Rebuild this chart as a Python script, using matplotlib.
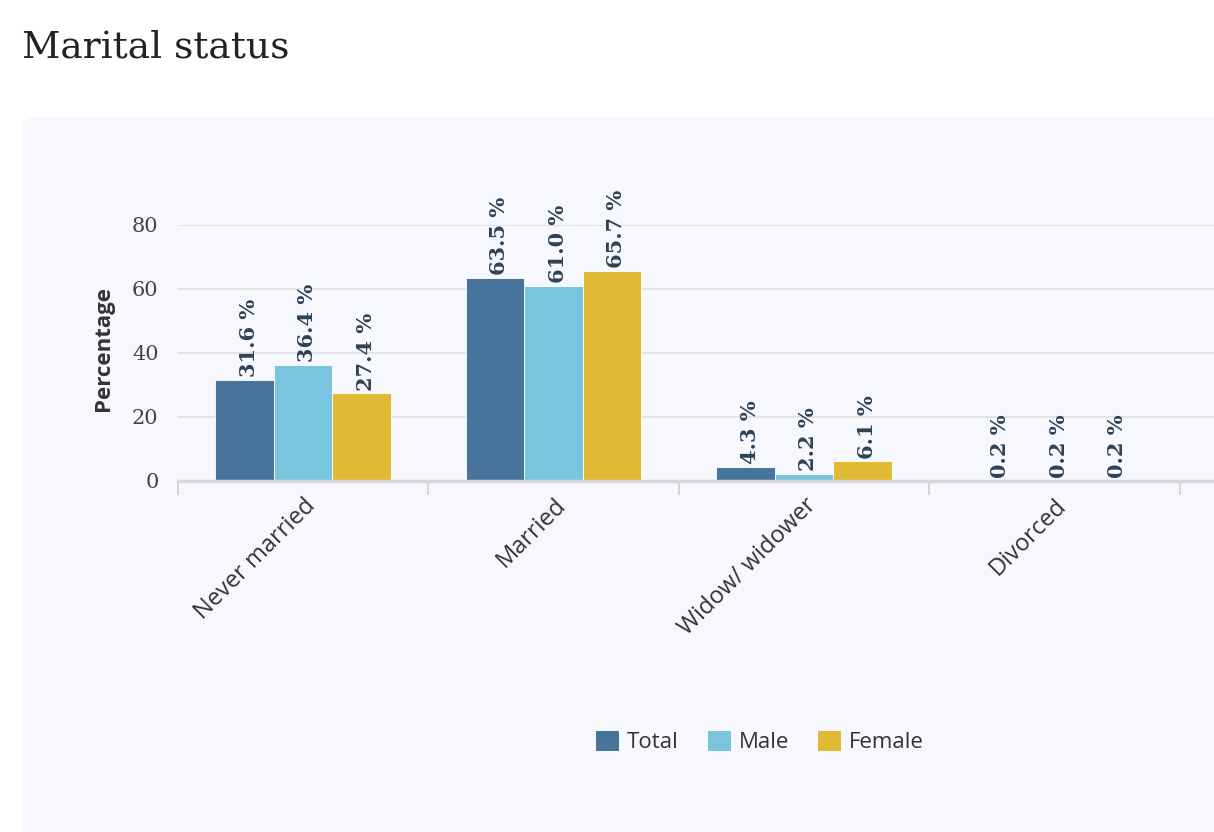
import numpy as np
import matplotlib.pyplot as plt
from matplotlib.patches import FancyBboxPatch, Patch

categories = ["Never married", "Married", "Widow/ widower", "Divorced"]
series_names = ["Total", "Male", "Female"]
total = [31.6, 63.5, 4.3, 0.2]
male = [36.4, 61.0, 2.2, 0.2]
female = [27.4, 65.7, 6.1, 0.2]
colors = ["#46749a", "#7ac5de", "#e0b935"]
yticks = [0, 20, 40, 60, 80]

W, H = 1214, 832
fig = plt.figure(figsize=(W / 100, H / 100), dpi=100)
fig.patch.set_facecolor("white")

# light panel with rounded corner, running off the right/bottom edges
panel = FancyBboxPatch((22 / W, -0.05), 1.1, (H - 117) / H + 0.05,
                       boxstyle="round,pad=0,rounding_size=0.015",
                       transform=fig.transFigure, facecolor="#f7f8fd",
                       edgecolor="none", zorder=-5)
fig.patches.append(panel)

fig.text(22 / W, 1 - 48 / H, "Marital status", family="DejaVu Serif",
         fontsize=27, color="#222222", va="center", ha="left")

ax = fig.add_axes([178 / W, 1 - 481 / H, (1240 - 178) / W, (481 - 225) / H])
ax.set_facecolor("none")
ax.set_xlim(-0.5, -0.5 + 1062 / 250.4)
ax.set_ylim(0, 80)

x = np.arange(len(categories))
bw = 0.234
for i, (name, vals) in enumerate(zip(series_names, [total, male, female])):
    pos = x + (i - 1) * bw
    ax.bar(pos, vals, width=bw, color=colors[i], edgecolor="#ffffff",
           linewidth=0.6, label=name, zorder=3)
    for px, v in zip(pos, vals):
        ax.annotate(f"{v:.1f} %", (px, v), xytext=(3, 2), textcoords="offset points",
                    rotation=90, ha="center", va="bottom", family="DejaVu Serif",
                    fontweight="bold", fontsize=15, color="#2e4257",
                    annotation_clip=False, zorder=4)

for s in ["top", "right", "left"]:
    ax.spines[s].set_visible(False)
ax.spines["bottom"].set_color("#d9d9d9")
ax.spines["bottom"].set_linewidth(2.5)
ax.spines["bottom"].set_zorder(5)

ax.set_yticks(yticks)
ax.set_yticklabels([str(t) for t in yticks], family="DejaVu Serif", fontsize=15,
                   color="#444444")
ax.tick_params(axis="y", length=0, pad=14)
ax.grid(axis="y", color="#e0e0e0", linewidth=1.2, zorder=0)

ax.set_xticks(np.arange(-0.5, 4, 1.0))
ax.set_xticklabels([])
ax.tick_params(axis="x", which="major", length=10, color="#d0d0d0", width=1.2)
ax.set_xticks(x, minor=True)
ax.set_xticklabels(categories, minor=True, rotation=45, ha="right", va="top",
                   rotation_mode="anchor", family="Open Sans", fontsize=17,
                   color="#333333")
ax.tick_params(axis="x", which="minor", length=0, pad=9)

fig.text(103 / W, 1 - 348 / H, "Percentage", rotation=90, ha="center", va="center",
         family="Open Sans", fontweight="bold", fontsize=16, color="#333333")

handles = [Patch(facecolor=c, edgecolor="none", label=n) for c, n in zip(colors, series_names)]
fig.legend(handles=handles, loc="center", bbox_to_anchor=(760 / W, 1 - 742 / H),
           ncol=3, frameon=False, prop={"family": "Open Sans", "size": 16},
           handlelength=1.05, handleheight=1.05, handletextpad=0.35, columnspacing=1.3,
           labelcolor="#333333")

fig.savefig("out.png", dpi=100)
